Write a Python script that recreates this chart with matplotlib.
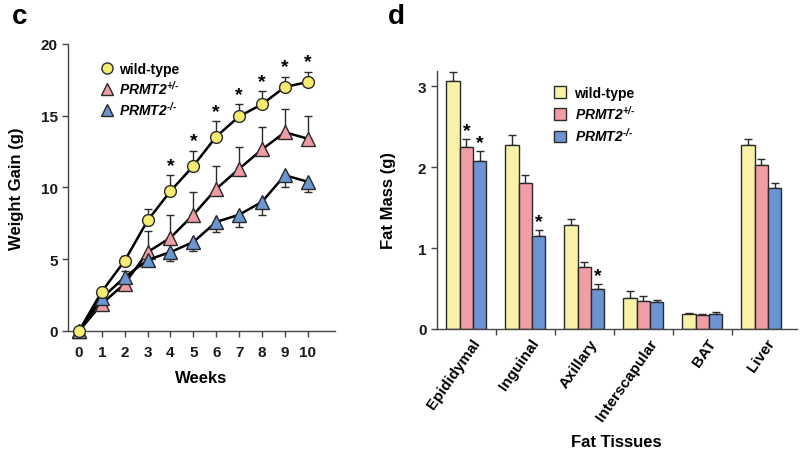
import matplotlib.pyplot as plt
import numpy as np
from matplotlib.lines import Line2D
from matplotlib.patches import Patch

plt.rcParams['font.family'] = ['Liberation Sans', 'DejaVu Sans']
plt.rcParams['font.weight'] = 'bold'
plt.rcParams['mathtext.fontset'] = 'custom'
plt.rcParams['mathtext.rm'] = 'Liberation Sans:italic:bold'
plt.rcParams['mathtext.it'] = 'Liberation Sans:italic:bold'
plt.rcParams['mathtext.bf'] = 'Liberation Sans:bold'

# 体重增长数据 (panel c)
weeks = [0, 1, 2, 3, 4, 5, 6, 7, 8, 9, 10]
wt_gain = [0, 2.75, 4.9, 7.7, 9.75, 11.5, 13.55, 14.95, 15.8, 17.0, 17.35]
wt_err = [0, 0.15, 0.3, 0.8, 1.1, 1.05, 1.05, 0.85, 0.9, 0.7, 0.7]
het_gain = [0, 1.9, 3.3, 5.5, 6.5, 8.1, 9.9, 11.3, 12.65, 13.85, 13.4]
het_err = [0, 0.2, 0.2, 1.5, 1.6, 1.6, 1.6, 1.55, 1.55, 1.6, 1.6]
ko_gain = [0, 2.3, 3.75, 4.95, 5.5, 6.2, 7.6, 8.1, 9.0, 10.85, 10.4]
ko_err_low = [0, 0, 0, 0.4, 0.6, 0.6, 0.7, 0.85, 0.9, 0.8, 0.7]
ko_err_up = [0, 0, 0.45, 0, 0, 0, 0, 0, 0, 0, 0]
star_weeks = [4, 5, 6, 7, 8, 9, 10]

# 脂肪组织质量 (panel d)
tissues = ['Epididymal', 'Inguinal', 'Axillary', 'Interscapular', 'BAT', 'Liver']
wt_mass = [3.07, 2.27, 1.28, 0.38, 0.18, 2.27]
wt_mass_err = [0.1, 0.13, 0.08, 0.09, 0.02, 0.08]
het_mass = [2.25, 1.8, 0.77, 0.35, 0.17, 2.03]
het_mass_err = [0.1, 0.1, 0.06, 0.06, 0.015, 0.07]
ko_mass = [2.07, 1.15, 0.49, 0.33, 0.19, 1.74]
ko_mass_err = [0.13, 0.07, 0.06, 0.03, 0.02, 0.07]
# 有星号的 (组, 系列)
mass_stars = [(0, 1), (0, 2), (1, 2), (2, 2)]

yellow = '#f6ec72'
pink = '#ee9ca4'
blue = '#6b96d2'
bar_yellow = '#f8f2a8'
bar_pink = '#ef9ea6'
bar_blue = '#6d94d2'
edge = '#2a2a2a'

fig = plt.figure(figsize=(8, 4.52), dpi=100)

# ---------- panel c ----------
ax1 = fig.add_axes([0.085, 0.2655, 0.334, 0.635])
x = np.array(weeks)
ax1.errorbar(x, het_gain, yerr=[np.zeros(len(x)), het_err], fmt='none',
             ecolor=edge, elinewidth=1, capsize=3, zorder=2)
ax1.errorbar(x, wt_gain, yerr=[np.zeros(len(x)), wt_err], fmt='none',
             ecolor=edge, elinewidth=1, capsize=3, zorder=2)
ax1.errorbar(x, ko_gain, yerr=[ko_err_low, ko_err_up], fmt='none',
             ecolor=edge, elinewidth=1, capsize=3, zorder=2)
ax1.plot(x, wt_gain, '-o', color='black', lw=1.8, ms=8.5,
         mfc=yellow, mec=edge, mew=1, zorder=4, clip_on=False)
ax1.plot(x, het_gain, '-^', color='black', lw=1.8, ms=9.5,
         mfc=pink, mec=edge, mew=1, zorder=3, clip_on=False)
ax1.plot(x, ko_gain, '-^', color='black', lw=1.8, ms=9.5,
         mfc=blue, mec=edge, mew=1, zorder=3, clip_on=False)
for w in star_weeks:
    ax1.text(w, wt_gain[w] + wt_err[w] + 0.1, '*', ha='center', va='bottom',
             fontsize=14, fontweight='bold')

ax1.set_xlim(-0.48, 11.2)
ax1.set_ylim(0, 20)
ax1.set_xticks(weeks)
ax1.set_yticks([0, 5, 10, 15, 20])
ax1.spines['top'].set_visible(False)
ax1.spines['right'].set_visible(False)
for s in ['left', 'bottom']:
    ax1.spines[s].set_linewidth(1)
    ax1.spines[s].set_color('#444444')
ax1.tick_params(direction='out', length=4, width=1, labelsize=11, colors='#444444',
                labelcolor='#1a1a1a')
ax1.tick_params(axis='x', pad=6)
ax1.set_xlabel('Weeks', fontsize=12, fontweight='bold', labelpad=8)
ax1.set_ylabel('Weight Gain (g)', fontsize=12, fontweight='bold', labelpad=12)

handles1 = [
    Line2D([], [], ls='none', marker='o', ms=8, mfc=yellow, mec=edge),
    Line2D([], [], ls='none', marker='^', ms=8, mfc=pink, mec=edge),
    Line2D([], [], ls='none', marker='^', ms=8, mfc=blue, mec=edge),
]
labels = ['wild-type', r'$PRMT2^{\text{+/-}}$', r'$PRMT2^{\text{-/-}}$']
ax1.legend(handles1, labels, loc='upper left', bbox_to_anchor=(0.06, 0.98),
           frameon=False, fontsize=10, handletextpad=0.1, labelspacing=0.2,
           handlelength=1.5)

fig.text(0.015, 0.962, 'c', fontsize=20, fontweight='bold', va='center')

# ---------- panel d ----------
ax2 = fig.add_axes([0.546, 0.27, 0.45, 0.571])
pos = np.arange(len(tissues))
bw = 0.225
series = [(wt_mass, wt_mass_err, bar_yellow),
          (het_mass, het_mass_err, bar_pink),
          (ko_mass, ko_mass_err, bar_blue)]
for i, (vals, errs, col) in enumerate(series):
    xs = pos + (i - 1) * bw
    ax2.bar(xs, vals, width=bw, color=col, edgecolor=edge, linewidth=1, zorder=2)
    ax2.errorbar(xs, vals, yerr=[np.zeros(len(vals)), errs], fmt='none',
                 ecolor=edge, elinewidth=1, capsize=3, zorder=1)
for g, i in mass_stars:
    vals, errs, _ = series[i]
    ax2.text(pos[g] + (i - 1) * bw, vals[g] + errs[g] + 0.0, '*', ha='center',
             va='bottom', fontsize=14, fontweight='bold')

ax2.set_xlim(-0.5, 5.6)
ax2.set_ylim(0, 3.19)
ax2.set_yticks([0, 1, 2, 3])
# 标签稍微右移，刻度线画在组与组之间
ax2.set_xticks(pos + 0.18)
ax2.set_xticklabels(tissues, rotation=55, ha='right', va='center',
                    rotation_mode='anchor', fontsize=11)
ax2.set_xticks(pos[:-1] + 0.5, minor=True)
ax2.tick_params(axis='x', which='major', length=0, pad=8)
ax2.tick_params(axis='x', which='minor', direction='out', length=4, width=1,
                colors='#444444')
ax2.tick_params(axis='y', direction='out', length=4, width=1, labelsize=11,
                colors='#444444', labelcolor='#1a1a1a')
ax2.spines['top'].set_visible(False)
ax2.spines['right'].set_visible(False)
for s in ['left', 'bottom']:
    ax2.spines[s].set_linewidth(1)
    ax2.spines[s].set_color('#444444')
ax2.set_xlabel('Fat Tissues', fontsize=12, fontweight='bold', labelpad=8)
ax2.set_ylabel('Fat Mass (g)', fontsize=12, fontweight='bold', labelpad=16)

handles2 = [Patch(facecolor=c, edgecolor=edge) for c in (bar_yellow, bar_pink, bar_blue)]
ax2.legend(handles2, labels, loc='upper left', bbox_to_anchor=(0.29, 0.99),
           frameon=False, fontsize=10, handletextpad=0.6, labelspacing=0.3,
           handlelength=0.9, handleheight=0.9)

fig.text(0.485, 0.962, 'd', fontsize=20, fontweight='bold', va='center')

fig.savefig('out.png', dpi=100)
